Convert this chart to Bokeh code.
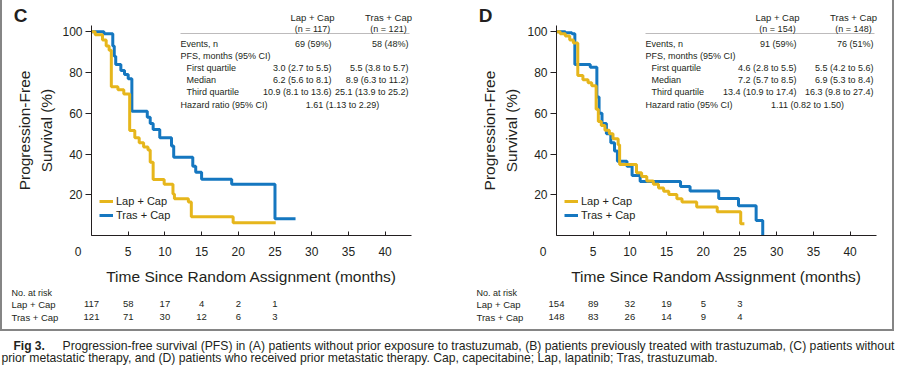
from bokeh.plotting import figure
from bokeh.models import Label, LabelSet, ColumnDataSource, FixedTicker, PolyAnnotation, Range1d
from bokeh.core.properties import value
from bokeh.layouts import column, row
from bokeh.embed import file_html
from bokeh.resources import INLINE

# ---------------- data ----------------
arms = ["Lap + Cap", "Tras + Cap"]
x_ticks = [0, 5, 10, 15, 20, 25, 30, 35, 40]
y_ticks = [20, 40, 60, 80, 100]
risk_months = [0, 5, 10, 15, 20, 25]

# Panel C (no prior metastatic therapy)
c_lap_t = [0, 0.5, 1.5, 2.0, 2.4, 2.7, 3.6, 4.4, 5.2, 5.9, 6.5, 7.1, 7.7, 8.0, 8.4, 9.9, 11.1, 11.3, 13.2, 13.6, 19.3, 25.1]
c_lap_s = [100, 98.5, 96, 93, 91, 73, 71.5, 69.5, 51.5, 48, 45.5, 43.5, 42, 36, 27.5, 25.2, 20.4, 18, 16.5, 9.2, 6.3, 6.3]
c_tras_t = [0, 1.7, 2.9, 3.1, 3.3, 4.0, 4.5, 5.0, 5.5, 7.6, 8.0, 8.4, 9.3, 10.9, 11.2, 13.8, 14.2, 15.0, 19.1, 25.0, 27.8]
c_tras_s = [100, 99, 93, 88, 84, 81, 79, 77, 61, 58, 55, 52, 48, 44, 38.4, 34, 31, 27.6, 25.2, 8.2, 8.2]

# Panel D (prior metastatic therapy)
d_lap_t = [0, 0.5, 1.2, 1.8, 2.3, 2.9, 3.6, 4.3, 4.8, 5.4, 5.7, 6.1, 6.6, 7.2, 7.7, 8.4, 8.6, 10.9, 11.6, 12.3, 13.2, 13.9, 14.6, 15.3, 16.4, 17.1, 19.1, 21.9, 25.1, 25.6]
d_lap_s = [100, 99, 98, 96, 94.5, 78.5, 76.5, 75, 73.5, 62, 56, 54, 51.7, 50, 47.5, 44.5, 34.8, 30.8, 29.0, 26.8, 25.2, 23.3, 21.7, 20.1, 18, 16.4, 14, 11.6, 5.8, 5.8]
d_tras_t = [0, 1.2, 2.1, 2.5, 4.6, 5.5, 5.8, 6.2, 6.8, 7.4, 7.9, 8.3, 9.6, 10.3, 11.4, 16.9, 18.2, 22.1, 24.8, 27.2, 28.1]
d_tras_s = [100, 99.5, 99, 84, 82.6, 68, 60, 55, 50, 45.5, 41.5, 36.5, 34, 29.4, 26.5, 24, 21.8, 18.2, 14.6, 7.4, 0]

c_n = ["(n = 117)", "(n = 121)"]
d_n = ["(n = 154)", "(n = 148)"]

table_rows = ["Events, n", "PFS, months (95% CI)", "First quartile", "Median", "Third quartile", "Hazard ratio (95% CI)"]
c_lap_vals = ["69 (59%)", "", "3.0 (2.7 to 5.5)", "6.2 (5.6 to 8.1)", "10.9 (8.1 to 13.6)"]
c_tras_vals = ["58 (48%)", "", "5.5 (3.8 to 5.7)", "8.9 (6.3 to 11.2)", "25.1 (13.9 to 25.2)"]
c_hr = "1.61 (1.13 to 2.29)"
d_lap_vals = ["91 (59%)", "", "4.6 (2.8 to 5.5)", "7.2 (5.7 to 8.5)", "13.4 (10.9 to 17.4)"]
d_tras_vals = ["76 (51%)", "", "5.5 (4.2 to 5.6)", "6.9 (5.3 to 8.4)", "16.3 (9.8 to 27.4)"]
d_hr = "1.11 (0.82 to 1.50)"

c_risk_lap = [117, 58, 17, 4, 2, 1]
c_risk_tras = [121, 71, 30, 12, 6, 3]
d_risk_lap = [154, 89, 32, 19, 5, 3]
d_risk_tras = [148, 83, 26, 14, 9, 4]

caption_bold = "Fig 3."
caption_1 = ("Progression-free survival (PFS) in (A) patients without prior exposure to trastuzumab, "
             "(B) patients previously treated with trastuzumab, (C) patients without")
caption_2 = ("prior metastatic therapy, and (D) patients who received prior metastatic therapy. "
             "Cap, capecitabine; Lap, lapatinib; Tras, trastuzumab.")

# ---------------- style / layout ----------------
YELLOW = "#E6B61C"
BLUE = "#1577C0"
TXT = "#231f20"
FONT = "Liberation Sans"
X_END = 43.6
FRAME_W = 320
FRAME_H = 214
TOP_H = 25
MAIN_BOTTOM = 48
RISK_H = 42
OX = 2                     # width of the left frame line
INNER_W = 890
PANEL_W = [448, 442]
FRAME_LEFT = [91, 556]     # page x of each plot frame


def lab(p, x, y, text, size, align="left", bold=False):
    p.add_layout(Label(x=x, y=y, x_units="screen", y_units="screen", text=text,
                       text_font=FONT, text_font_size=size, text_color=TXT,
                       text_align=align, text_baseline="middle",
                       text_font_style="bold" if bold else "normal"))


def blank(width, height, x_range=(0, 1)):
    f = figure(width=width, height=height, x_range=x_range, y_range=(0, 1),
               output_backend="svg", toolbar_location=None,
               x_axis_type=None, y_axis_type=None, min_border=0)
    f.grid.visible = False
    f.outline_line_color = None
    return f


def make_main(lap_t, lap_s, tras_t, tras_s, ns, lap_vals, tras_vals, hr, width, left):
    right = width - left - FRAME_W
    p = figure(width=width, height=FRAME_H + MAIN_BOTTOM, x_range=(0, X_END), y_range=(0, 103.1),
               output_backend="svg", toolbar_location=None,
               min_border_left=left, min_border_right=right,
               min_border_top=0, min_border_bottom=MAIN_BOTTOM)
    p.grid.visible = False
    p.outline_line_color = None

    p.step(tras_t, tras_s, mode="after", line_color=BLUE, line_width=3, legend_label=arms[1])
    p.step(lap_t, lap_s, mode="after", line_color=YELLOW, line_width=3, legend_label=arms[0])

    xa = p.xaxis[0]
    xa.ticker = FixedTicker(ticks=x_ticks)
    xa.major_label_overrides = {0: "0" + "\u00a0" * 8}
    xa.major_tick_in = 4
    xa.major_tick_out = 0
    xa.minor_tick_line_color = None
    xa.axis_line_color = TXT
    xa.major_tick_line_color = TXT
    xa.major_label_standoff = 9
    xa.major_label_text_font = FONT
    xa.major_label_text_font_size = "12px"
    xa.major_label_text_color = TXT
    xa.axis_label = "Time Since Random Assignment (months)"
    xa.axis_label_text_font = FONT
    xa.axis_label_text_font_style = "normal"
    xa.axis_label_text_font_size = "15.5px"
    xa.axis_label_text_color = TXT
    xa.axis_label_standoff = 6

    ya = p.yaxis[0]
    ya.ticker = FixedTicker(ticks=y_ticks)
    ya.major_tick_in = 0
    ya.major_tick_out = 6
    ya.minor_tick_line_color = None
    ya.axis_line_color = TXT
    ya.major_tick_line_color = TXT
    ya.major_label_standoff = 3
    ya.major_label_text_font = FONT
    ya.major_label_text_font_size = "12px"
    ya.major_label_text_color = TXT
    ya.axis_label = "Progression-Free\nSurvival (%)"
    ya.axis_label_text_font = FONT
    ya.axis_label_text_font_style = "normal"
    ya.axis_label_text_font_size = "15.5px"
    ya.axis_label_text_color = TXT
    ya.axis_label_text_line_height = 1.35
    ya.axis_label_standoff = 4

    leg = p.legend[0]
    leg.items = [leg.items[1], leg.items[0]]
    leg.location = (8, 13)
    leg.glyph_width = 14
    leg.glyph_height = 14
    leg.label_height = 14
    leg.label_standoff = 3
    leg.spacing = 0
    leg.padding = 0
    leg.margin = 0
    leg.border_line_color = None
    leg.background_fill_alpha = 0
    leg.label_text_font = FONT
    leg.label_text_font_size = "11px"
    leg.label_text_color = TXT

    # summary table inside the frame
    lab(p, 221, 207, ns[0], "9px", align="center")
    lab(p, 297, 207, ns[1], "9px", align="center")
    p.add_layout(PolyAnnotation(xs=[89, 318], ys=[202, 202], xs_units="screen", ys_units="screen",
                                line_color=TXT, line_width=1, fill_alpha=0))
    row_y = [192, 180, 168, 156, 144, 131]
    indent = [0, 0, 6, 6, 6, 0]
    for i, name in enumerate(table_rows):
        lab(p, 89 + indent[i], row_y[i], name, "9px")
    for i in range(5):
        if lap_vals[i]:
            lab(p, 240, row_y[i], lap_vals[i], "9px", align="right")
            lab(p, 317, row_y[i], tras_vals[i], "9px", align="right")
    lab(p, 251, row_y[5], hr, "9px", align="center")
    return p


# --- strip above the plots: panel letters and column headers ---
top = blank(INNER_W, TOP_H)
for letter, fl in zip(["C", "D"], FRAME_LEFT):
    lab(top, fl - 71 - OX, 10, letter, "19px", align="center", bold=True)
    lab(top, fl + 221 - OX, 8, arms[0], "9.5px", align="center")
    lab(top, fl + 297 - OX, 8, arms[1], "9.5px", align="center")

main_c = make_main(c_lap_t, c_lap_s, c_tras_t, c_tras_s, c_n, c_lap_vals, c_tras_vals, c_hr,
                   PANEL_W[0], FRAME_LEFT[0] - OX)
main_d = make_main(d_lap_t, d_lap_s, d_tras_t, d_tras_s, d_n, d_lap_vals, d_tras_vals, d_hr,
                   PANEL_W[1], FRAME_LEFT[1] - OX - PANEL_W[0])

# --- number at risk strip, on the month scale of each plot ---
k = X_END / FRAME_W
lc, ld = FRAME_LEFT[0] - OX, FRAME_LEFT[1] - OX
risk = blank(INNER_W, RISK_H, x_range=Range1d(-lc * k, (INNER_W - lc) * k))
risk.extra_x_ranges = {"d": Range1d(-ld * k, (INNER_W - ld) * k)}
for fl, rl, rt, rng in ((lc, c_risk_lap, c_risk_tras, "default"), (ld, d_risk_lap, d_risk_tras, "d")):
    lab(risk, fl - 80, 37, "No. at risk", "9px")
    lab(risk, fl - 80, 25.5, arms[0], "9.5px")
    lab(risk, fl - 80, 12.5, arms[1], "9.5px")
    src = ColumnDataSource(dict(x=risk_months, lap=[str(v) for v in rl], tras=[str(v) for v in rt]))
    for col, yy in (("lap", 25.5), ("tras", 12.5)):
        risk.add_layout(LabelSet(x="x", y=yy, y_units="screen", text=col, source=src,
                                 x_range_name=rng, text_font=value(FONT),
                                 text_font_size=value("9.5px"),
                                 text_color=TXT, text_align="center", text_baseline="middle"))

inner = column(top, row(main_c, main_d), risk,
               styles={"border-left": "2px solid #858585", "border-right": "2px solid #858585",
                       "border-bottom": "2px solid #858585"})

cap = blank(895, 40)
lab(cap, 13, 26, caption_bold, "12px", bold=True)
lab(cap, 62, 26, caption_1, "12.2px")
lab(cap, 1, 14, caption_2, "12.2px")

layout = column(inner, cap)
open("out.html", "w").write(file_html(layout, INLINE))
